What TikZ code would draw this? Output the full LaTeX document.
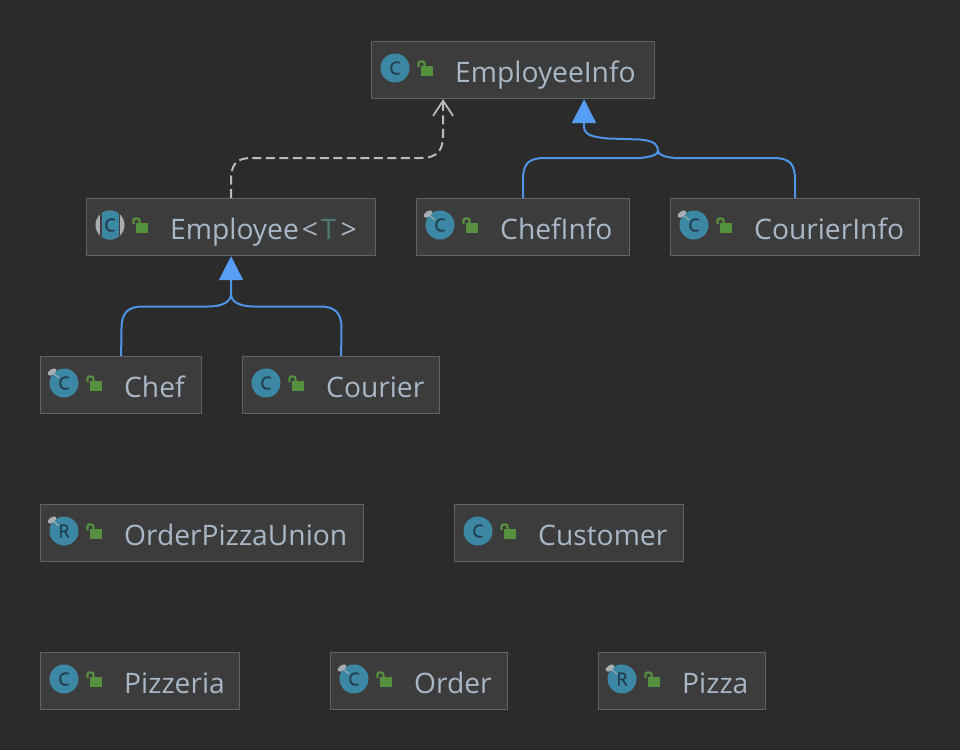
\documentclass[tikz,border=0pt]{standalone}
\usepackage{fontspec}
\setmainfont{Open Sans}
\newfontfamily\iconfont[FakeBold=1.2]{Open Sans}
\usepackage{xcolor}
\usetikzlibrary{shapes,arrows.meta,positioning,calc}
\definecolor{panelbg}{HTML}{2B2B2B}
\definecolor{boxbg}{HTML}{3C3C3C}
\definecolor{boxline}{HTML}{636363}
\definecolor{labelcol}{HTML}{A9B7C6}
\definecolor{paramcol}{HTML}{507874}
\definecolor{iconcol}{HTML}{3C88A4}
\definecolor{lettercol}{HTML}{233F4E}
\definecolor{lockcol}{HTML}{55913F}
\definecolor{pincol}{HTML}{A8ADB2}
\definecolor{extcol}{HTML}{4E94E8}
\definecolor{tipcol}{HTML}{589DF6}
\definecolor{implcol}{HTML}{BBBBBB}
\tikzset{
  classbox/.style={draw=boxline,fill=boxbg,line width=1.2pt,anchor=north west,
    minimum height=57pt,inner sep=0pt},
  classlabel/.style={anchor=base west,inner sep=0pt,text=labelcol,
    font=\fontsize{28.2}{30}\selectfont},
  classicon/.style={circle,fill=iconcol,minimum size=29pt,inner sep=0pt,text=lettercol,
    font=\iconfont\fontsize{18}{18}\selectfont},
  absicon/.style={circle,fill=pincol,minimum size=29pt,inner sep=0pt,text=lettercol,
    font=\iconfont\fontsize{18}{18}\selectfont,
    path picture={
      \fill[boxbg] ([xshift=-10pt]path picture bounding box.south) rectangle ([xshift=10pt]path picture bounding box.north);
      \fill[iconcol] ([xshift=-8.5pt]path picture bounding box.south) rectangle ([xshift=8.5pt]path picture bounding box.north);
    }},
  pinmark/.style={ellipse,fill=pincol,minimum width=10pt,minimum height=5.5pt,inner sep=0pt,rotate=35},
  lockbody/.style={fill=lockcol,minimum width=12.5pt,minimum height=10.5pt,inner sep=0pt},
  lockbar/.style={draw=lockcol,line width=2.2pt,rounded corners=2pt},
  extline/.style={draw=extcol,line width=2pt,-{Triangle[length=24pt,width=24pt,color=tipcol]}},
  extjoin/.style={draw=extcol,line width=2pt},
  impline/.style={draw=implcol,line width=2pt,dash pattern=on 9pt off 4.5pt,
    -{Straight Barb[length=15pt,width=20pt,line width=1.8pt]}}
}
% box at left/top: name, left, top, width, icon style, letter, text
\newcommand{\classnode}[7]{
  \begin{scope}[shift={(#2,#3)}]
    \node[classbox,minimum width=#4pt] (#1) at (0,0) {};
    \node[#5] (#1-icon) at (24,27) {#6};
    \node[lockbody] (#1-lock) at (56,30) {};
    \draw[lockbar] (47.5,26) -- (47.5,20.5) -- (53.5,20.5) -- (53.5,26);
    \node[classlabel] (#1-text) at (84,41.5) {#7};
  \end{scope}
}
\newcommand{\pinnode}[1]{
  \node[pinmark] (#1-pin) at ($(#1.north west)+(12,16)$) {};
  \draw[pincol,line width=1pt] (#1-pin.center) -- ($(#1-pin.center)+(7,6)$);
}

\begin{document}
\begin{tikzpicture}[x=1pt,y=-1pt]
    \fill[panelbg] (0,0) rectangle (960,750);
    \useasboundingbox (0,0) rectangle (960,750);

    \classnode{employeeinfo}{371}{41}{283}{classicon}{C}{EmployeeInfo}
    \classnode{employee}{86}{198}{289}{absicon}{C}{Employee\kern3pt<\kern3pt\textcolor{paramcol}{T}\kern4pt>}
    \classnode{chefinfo}{416}{198}{213}{classicon}{C}{ChefInfo}
    \classnode{courierinfo}{670}{198}{249}{classicon}{C}{CourierInfo}
    \classnode{chef}{40}{356}{161}{classicon}{C}{Chef}
    \classnode{courier}{242}{356}{197}{classicon}{C}{Courier}
    \classnode{union}{40}{504}{323}{classicon}{R}{OrderPizzaUnion}
    \classnode{customer}{454}{504}{229}{classicon}{C}{Customer}
    \classnode{pizzeria}{40}{652}{199}{classicon}{C}{Pizzeria}
    \classnode{order}{330}{652}{177}{classicon}{C}{Order}
    \classnode{pizza}{598}{652}{167}{classicon}{R}{Pizza}

    \pinnode{chefinfo}
    \pinnode{courierinfo}
    \pinnode{chef}
    \pinnode{union}
    \pinnode{order}
    \pinnode{pizza}

    \draw[impline] (employee.north) -- (231,182) .. controls (231,165) and (235,158) .. (252,158)
      -- (420,158) .. controls (438,158) and (443,150) .. (443,135) -- ([xshift=-70pt]employeeinfo.south);

    \draw[extline] (chef.north) -- (121.5,328) .. controls (121.5,313) and (128,306.5) .. (143,306.5)
      -- (208,306.5) .. controls (222,306.5) and (231,302) .. (231,294) -- (employee.south);
    \draw[extjoin] (courier.north) -- (341.5,328) .. controls (341.5,313) and (335,306.5) .. (320,306.5)
      -- (254,306.5) .. controls (240,306.5) and (231,302) .. (231,294);

    \draw[extline] (chefinfo.north) -- (523,180) .. controls (523,164) and (528,158) .. (545,158)
      -- (640,158) .. controls (650,157) and (658,155) .. (658,151)
      .. controls (658,145) and (655,141) .. (640,139.5) -- (608,138.5)
      .. controls (592,137) and (584,135) .. (584,126) -- ([xshift=71pt]employeeinfo.south);
    \draw[extjoin] (courierinfo.north) -- (795,180) .. controls (795,164) and (790,158) .. (773,158)
      -- (675,158) .. controls (665,157) and (658,155) .. (658,151);
\end{tikzpicture}
\end{document}
